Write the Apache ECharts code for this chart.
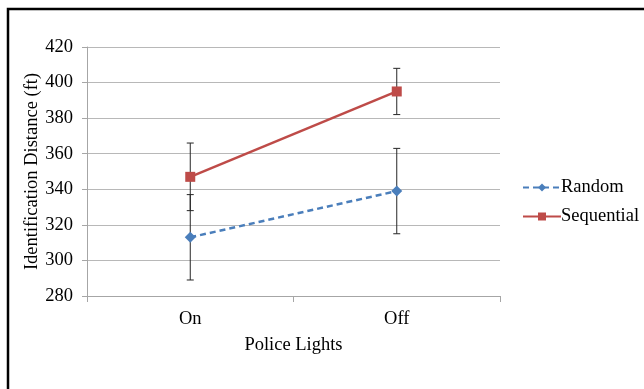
<!DOCTYPE html>
<html>
<head>
<meta charset="utf-8">
<script src="https://cdn.jsdelivr.net/npm/echarts@6/dist/echarts.min.js"></script>
<style>html,body{margin:0;padding:0;background:#fff}#c{width:644px;height:389px}</style>
</head>
<body>
<div id="c"></div>
<script>
var categories = ['On', 'Off'];
var randomValues = [313, 339];
var randomErrors = [24, 24];
var sequentialValues = [347, 395];
var sequentialErrors = [19, 13];
var yTicks = [280, 300, 320, 340, 360, 380, 400, 420];

var FONT = '"Liberation Serif", "Times New Roman", serif';
var FS = 18.5;
var chart = echarts.init(document.getElementById('c'), null, {renderer: 'canvas'});

function errData(vals, errs) {
  return vals.map(function (v, i) { return [i, v - errs[i], v + errs[i]]; });
}
function errRender(params, api) {
  var x = api.value(0);
  var lo = api.coord([x, api.value(1)]);
  var hi = api.coord([x, api.value(2)]);
  var hw = 3.5;
  var st = {stroke: '#262626', lineWidth: 1};
  return {
    type: 'group',
    children: [
      {type: 'line', shape: {x1: lo[0], y1: lo[1], x2: hi[0], y2: hi[1]}, style: st},
      {type: 'line', shape: {x1: lo[0] - hw, y1: lo[1], x2: lo[0] + hw, y2: lo[1]}, style: st},
      {type: 'line', shape: {x1: hi[0] - hw, y1: hi[1], x2: hi[0] + hw, y2: hi[1]}, style: st}
    ]
  };
}

var option = {
  animation: false,
  backgroundColor: '#fff',
  graphic: [{
    type: 'rect',
    shape: {x: 8, y: 9, width: 700, height: 400},
    style: {fill: 'none', stroke: '#000', lineWidth: 2.5},
    silent: true
  }],
  grid: {left: 87, right: 144, top: 47, bottom: 93, containLabel: false},
  legend: {
    orient: 'vertical',
    left: 517,
    top: 173,
    itemWidth: 38,
    itemHeight: 10,
    itemGap: 10,
    data: ['Random', 'Sequential'],
    textStyle: {fontFamily: FONT, fontSize: FS, color: '#000', padding: [0, 0, 0, -5]}
  },
  xAxis: {
    type: 'category',
    data: categories,
    boundaryGap: true,
    name: 'Police Lights',
    nameLocation: 'middle',
    nameGap: 40,
    nameMoveOverlap: false,
    nameTextStyle: {fontFamily: FONT, fontSize: FS, color: '#000'},
    axisLine: {lineStyle: {color: '#a6a6a6', width: 1}},
    axisTick: {show: true, length: 6, lineStyle: {color: '#a6a6a6'}},
    axisLabel: {fontFamily: FONT, fontSize: FS, color: '#000', margin: 14}
  },
  yAxis: {
    type: 'value',
    min: yTicks[0],
    max: yTicks[yTicks.length - 1],
    interval: 20,
    name: 'Identification Distance (ft)',
    nameLocation: 'middle',
    nameGap: 45,
    nameMoveOverlap: false,
    nameTextStyle: {fontFamily: FONT, fontSize: FS, color: '#000'},
    axisLine: {show: true, lineStyle: {color: '#a6a6a6', width: 1}},
    axisTick: {show: true, length: 5, lineStyle: {color: '#a6a6a6'}},
    axisLabel: {fontFamily: FONT, fontSize: FS, color: '#000', margin: 14},
    splitLine: {show: true, lineStyle: {color: '#b8b8b8', width: 1}}
  },
  series: [
    {
      name: 'RandomErr', type: 'custom', renderItem: errRender,
      data: errData(randomValues, randomErrors), z: 1, silent: true
    },
    {
      name: 'SequentialErr', type: 'custom', renderItem: errRender,
      data: errData(sequentialValues, sequentialErrors), z: 1, silent: true
    },
    {
      name: 'Random', type: 'line', data: randomValues, z: 3,
      symbol: 'diamond', symbolSize: 11,
      lineStyle: {color: '#4a7ebb', width: 2.5, type: [6, 4]},
      itemStyle: {color: '#4a7ebb'}
    },
    {
      name: 'Sequential', type: 'line', data: sequentialValues, z: 3,
      symbol: 'rect', symbolSize: 10,
      lineStyle: {color: '#be4b48', width: 2.5},
      itemStyle: {color: '#be4b48'}
    }
  ]
};
chart.setOption(option);
</script>
</body>
</html>
